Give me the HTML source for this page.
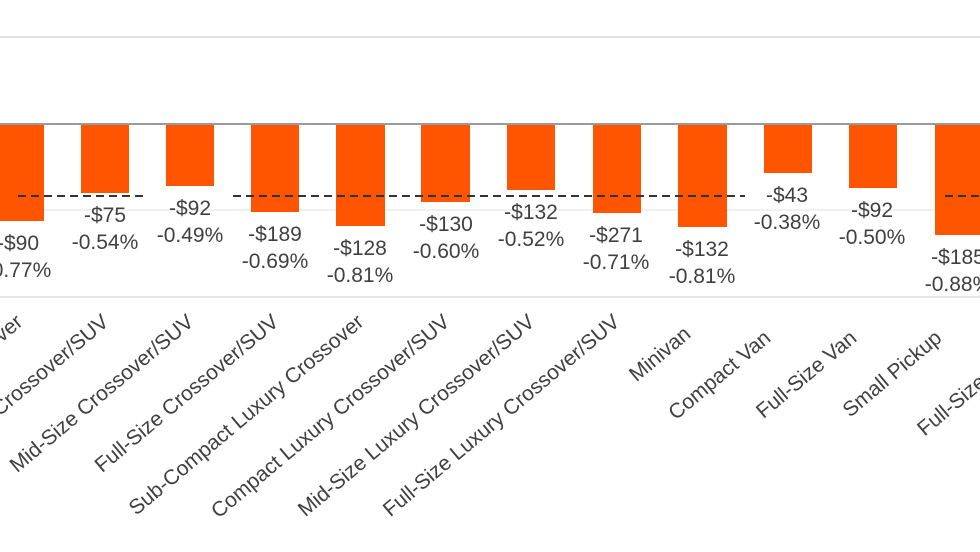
<!DOCTYPE html>
<html><head><style>
html,body{margin:0;padding:0;background:#fff;}
svg{display:block;}
text{font-family:"Liberation Sans",Arial,sans-serif;fill:#404040;}
</style></head><body>
<svg width="980" height="552" viewBox="0 0 980 552">
<line x1="0" y1="37" x2="980" y2="37" stroke="#e2e2e2" stroke-width="2"/>
<line x1="0" y1="297" x2="980" y2="297" stroke="#e6e6e6" stroke-width="2"/>
<line x1="0" y1="210" x2="980" y2="210" stroke="#ececec" stroke-width="1.5"/>
<g fill="#ff5500">
<rect x="-6" y="124" width="50" height="97"/>
<rect x="81" y="124" width="48" height="69"/>
<rect x="166" y="124" width="48" height="62"/>
<rect x="251" y="124" width="48" height="88"/>
<rect x="336" y="124" width="49" height="102"/>
<rect x="421" y="124" width="49" height="78"/>
<rect x="507" y="124" width="48" height="66"/>
<rect x="593" y="124" width="48" height="89"/>
<rect x="678" y="124" width="49" height="103"/>
<rect x="764" y="124" width="48" height="49"/>
<rect x="849" y="124" width="48" height="64"/>
<rect x="935" y="124" width="50" height="111"/>
</g>
<line x1="0" y1="124" x2="980" y2="124" stroke="#9a9a9a" stroke-width="2"/>
<g stroke="#333" stroke-width="2" stroke-dasharray="8,5">
<line x1="18" y1="196" x2="147" y2="196"/>
<line x1="233" y1="196" x2="745" y2="196"/>
<line x1="945" y1="196" x2="980" y2="196"/>
</g>
<g font-size="21" text-anchor="middle">
<text x="18" y="250">-$90</text><text x="18" y="277">-0.77%</text>
<text x="105" y="222">-$75</text><text x="105" y="249">-0.54%</text>
<text x="190" y="215">-$92</text><text x="190" y="242">-0.49%</text>
<text x="275" y="241">-$189</text><text x="275" y="268">-0.69%</text>
<text x="360" y="255">-$128</text><text x="360" y="282">-0.81%</text>
<text x="446" y="231">-$130</text><text x="446" y="258">-0.60%</text>
<text x="531" y="219">-$132</text><text x="531" y="246">-0.52%</text>
<text x="616" y="242">-$271</text><text x="616" y="269">-0.71%</text>
<text x="702" y="256">-$132</text><text x="702" y="283">-0.81%</text>
<text x="787" y="202">-$43</text><text x="787" y="229">-0.38%</text>
<text x="872" y="217">-$92</text><text x="872" y="244">-0.50%</text>
<text x="958" y="264">-$185</text><text x="958" y="291">-0.88%</text>
</g>
<g font-size="21" text-anchor="end">
<text transform="translate(24,324) rotate(-40)">Compact Crossover</text>
<text transform="translate(110,324) rotate(-40)">Compact Crossover/SUV</text>
<text transform="translate(195,324) rotate(-40)">Mid-Size Crossover/SUV</text>
<text transform="translate(280,324) rotate(-40)">Full-Size Crossover/SUV</text>
<text transform="translate(365,324) rotate(-40)">Sub-Compact Luxury Crossover</text>
<text transform="translate(451,324) rotate(-40)">Compact Luxury Crossover/SUV</text>
<text transform="translate(536,324) rotate(-40)">Mid-Size Luxury Crossover/SUV</text>
<text transform="translate(621,324) rotate(-40)">Full-Size Luxury Crossover/SUV</text>
<text transform="translate(692,336) rotate(-40)">Minivan</text>
<text transform="translate(772,340) rotate(-40)">Compact Van</text>
<text transform="translate(858,340) rotate(-40)">Full-Size Van</text>
<text transform="translate(943,340) rotate(-40)">Small Pickup</text>
<text transform="translate(1040,340) rotate(-40)">Full-Size Pickup</text>
</g>
</svg>
</body></html>
